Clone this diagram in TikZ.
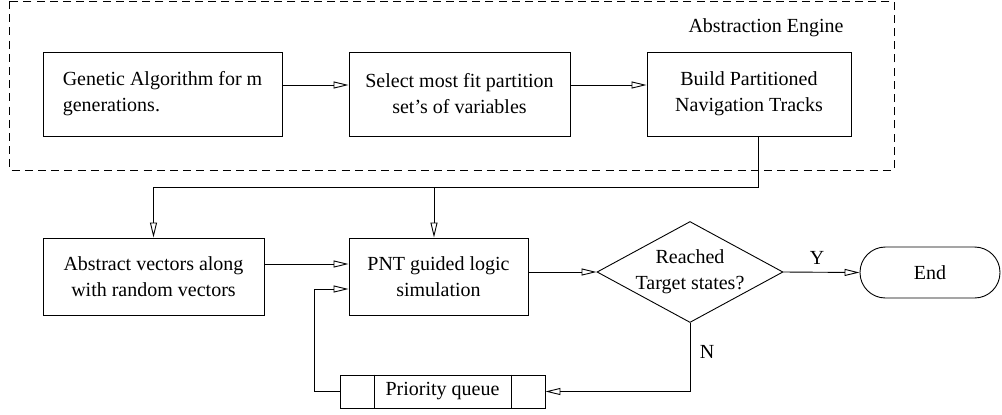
\documentclass[tikz,border=0pt]{standalone}
\usepackage{fontspec}
\setmainfont{Liberation Serif}
\usetikzlibrary{calc,arrows.meta,shapes.geometric}

\begin{document}
\begin{tikzpicture}[x=0.5pt,y=-0.5pt,line width=0.45pt,
	font=\fontsize{10}{13}\selectfont,
	box/.style={draw,rectangle,inner sep=0pt,minimum height=42pt},
	lowbox/.style={draw,rectangle,inner sep=0pt,minimum height=38.5pt},
	arr/.style={-{Triangle[open,length=7.5pt,width=3.5pt]}}]
	\useasboundingbox (0,0) rectangle (1002,414);
	% abstraction engine
	\draw[dash pattern=on 4pt off 2.6pt] (9,1) rectangle (894,170);
	\node (engine) at (766,28) {Abstraction Engine};
	\node[box,minimum width=119.5pt,align=left] (ga) at (162.5,94) {Genetic Algorithm for m\\generations.};
	\node[box,minimum width=110.5pt,align=center] (sel) at (459.5,94) {Select most fit partition\\set's of variables};
	\node[box,minimum width=102pt,align=center] (pnt) at (749,94) {Build Partitioned\\Navigation Tracks};
	% simulation loop
	\node[lowbox,minimum width=110.5pt,align=center] (vec) at (153.5,276.5) {Abstract vectors along\\with random vectors};
	\node[lowbox,minimum width=89.5pt,align=center] (sim) at (438.5,276.5) {PNT guided logic\\simulation};
	\node[draw,diamond,inner sep=0pt,minimum width=93pt,minimum height=50.5pt] (dec) at (690,272) {};
	\node[align=center] (dectext) at (dec.center) {Reached\\Target states?};
	\node[draw,rectangle,rounded corners=12.7pt,minimum width=70pt,minimum height=25.5pt] (end) at (930,272.5) {End};
	\node[draw,rectangle,inner sep=0pt,minimum width=102.5pt,minimum height=16.5pt] (queue) at (442.5,391.5) {Priority queue};
	\draw ($(queue.north west)+(35,0)$) -- ($(queue.south west)+(35,0)$);
	\draw ($(queue.north east)+(-34,0)$) -- ($(queue.south east)+(-34,0)$);
	\coordinate (bus) at (758,187);
	\node (yes) at (817,258) {Y};
	\node (no) at (707,352) {N};
	% connectors
	\draw[arr] ([yshift=4.5pt]ga.east) -- ([yshift=4.5pt]sel.west);
	\draw[arr] ([yshift=4.5pt]sel.east) -- ([yshift=4.5pt]pnt.west);
	\draw[arr] ([xshift=4.5pt]pnt.south) |- (vec.north |- bus) -- (vec.north);
	\draw[arr] ([xshift=-2.25pt]sim.north |- bus) -- ([xshift=-2.25pt]sim.north);
	\draw[arr] ([yshift=6.25pt]vec.east) -- ([yshift=6.25pt]sim.west);
	\draw[arr] (sim.east |- dec.west) -- (dec.west);
	\draw[arr] (dec.east) -- (end.west);
	\draw[arr] (dec.south) |- (queue.east);
	\draw[arr] (queue.west) -- ++(-25,0) |- ([yshift=-6.25pt]sim.west);
\end{tikzpicture}
\end{document}
